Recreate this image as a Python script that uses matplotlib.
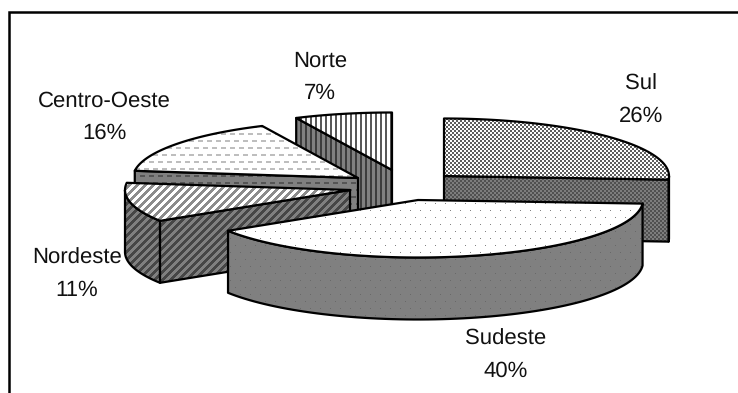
#!/usr/bin/env python

import matplotlib
matplotlib.use("Agg")
import matplotlib.pyplot as plt
import numpy as np
from matplotlib.patches import Polygon

plt.rcParams["font.family"] = ["Liberation Sans", "DejaVu Sans"]
plt.rcParams["text.hinting"] = "none"

regions = ["Sul", "Sudeste", "Nordeste", "Centro-Oeste", "Norte"]
shares = [26, 40, 11, 16, 7]

W, H = 738, 393
RX, RY, DEPTH = 225, 57.5, 62

# apex of each exploded slice and where its label goes, in pixels
centers = {
    "Sul": (444, 176),
    "Sudeste": (418, 200),
    "Nordeste": (350, 190),
    "Centro-Oeste": (358, 178),
    "Norte": (392, 170),
}
label_pos = {
    "Sul": (641, 100),
    "Sudeste": (506, 355),
    "Nordeste": (77, 274),
    "Centro-Oeste": (104, 117),
    "Norte": (320, 77),
}

yy, xx = np.indices((H, W))


def two_tone(mask, on, off):
    tex = np.empty((H, W), dtype=np.uint8)
    tex[:] = off
    tex[mask] = on
    return tex


def checker():
    return (xx // 2 + yy // 2) % 2 == 0


def dots():
    row = yy // 7
    return (yy % 7 == 0) & ((xx + 5 * (row % 2)) % 10 == 0)


def diagonal():
    return (xx + yy) % 8 < 4


def vertical():
    return xx % 5 < 2


def dashes():
    row = yy // 7
    return (yy % 7 < 2) & ((xx + 4 * (row % 2)) % 9 < 5)


# pattern mask, ink/paper on the top face, ink/paper on the side walls
fills = {
    "Sul": (checker, 95, 255, 80, 125),
    "Sudeste": (dots, 130, 255, 105, 128),
    "Nordeste": (diagonal, 140, 255, 70, 128),
    "Centro-Oeste": (dashes, 190, 255, 85, 128),
    "Norte": (vertical, 90, 255, 60, 128),
}


def rim(center, theta):
    cx, cy = center
    return np.column_stack([cx + RX * np.sin(theta), cy - RY * np.cos(theta)])


def textured(ax, pts, tex):
    outline = Polygon(pts, closed=True, facecolor="none", edgecolor="black",
                      linewidth=1.6, joinstyle="round", zorder=ax.z + 1)
    ax.add_patch(outline)
    im = ax.imshow(tex, cmap="gray", vmin=0, vmax=255, extent=(0, W, H, 0),
                   interpolation="nearest", aspect="auto", zorder=ax.z)
    clip = Polygon(pts, closed=True, transform=ax.transData)
    im.set_clip_path(clip)
    ax.z += 2


def draw_slice(ax, name, a0, a1):
    center = np.array(centers[name], dtype=float)
    pattern, top_ink, top_paper, wall_ink, wall_paper = fills[name]
    mask = pattern()
    top_tex = two_tone(mask, top_ink, top_paper)
    wall_tex = two_tone(mask, wall_ink, wall_paper)
    down = np.array([0, DEPTH])

    edge = rim(center, np.linspace(a0, a1, 80))

    # outer wall, only the part on the front half of the pie
    lo, hi = max(a0, np.pi / 2), min(a1, 1.5 * np.pi)
    if hi > lo:
        arc = rim(center, np.linspace(lo, hi, 80))
        textured(ax, np.vstack([arc, arc[::-1] + down]), wall_tex)

    # cut faces that turn toward the viewer
    if np.pi < a0 < 2 * np.pi:
        textured(ax, [center, edge[0], edge[0] + down, center + down], wall_tex)
    if 0 < a1 < np.pi:
        textured(ax, [center, edge[-1], edge[-1] + down, center + down], wall_tex)

    textured(ax, np.vstack([center, edge]), top_tex)


fig = plt.figure(figsize=(W / 100, H / 100), dpi=100)
ax = fig.add_axes([0, 0, 1, 1])
ax.z = 2

fractions = np.array(shares) / sum(shares)
ends = np.cumsum(fractions) * 2 * np.pi
starts = ends - fractions * 2 * np.pi
angles = {n: (s, e) for n, s, e in zip(regions, starts, ends)}

for name in ["Norte", "Centro-Oeste", "Sul", "Nordeste", "Sudeste"]:
    draw_slice(ax, name, *angles[name])

for name, share in zip(regions, shares):
    x, y = label_pos[name]
    ax.text(x, y, f"{name}\n{share}%", ha="center", va="center", fontsize=15.9,
            linespacing=1.7, color="#111111", zorder=100)

# chart frame, open on the right and bottom
ax.plot([8.5, 8.5, W], [H, 12, 12], color="black", linewidth=1.8, zorder=101,
        solid_joinstyle="miter")

ax.set_xlim(0, W)
ax.set_ylim(H, 0)
ax.axis("off")

fig.savefig("out.png", dpi=100, facecolor="white")
plt.close(fig)
